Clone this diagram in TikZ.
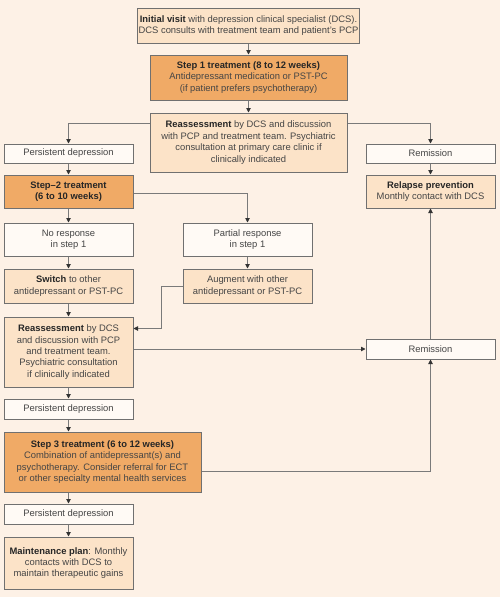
\documentclass[tikz,border=0pt]{standalone}
\usepackage{fontspec}
\setmainfont{Liberation Sans}
\usetikzlibrary{arrows.meta}
\definecolor{bgc}{HTML}{FDF1E6}
\definecolor{lightbox}{HTML}{FCE3C8}
\definecolor{darkbox}{HTML}{F0AA66}
\definecolor{whitebox}{HTML}{FFFAF5}
\definecolor{edgec}{HTML}{707070}
\definecolor{txt}{HTML}{454545}
\definecolor{linec}{HTML}{7A7A7A}
\tikzset{
  basebox/.style={draw=edgec, line width=1pt, align=center, inner sep=1pt,
    text=txt, font=\fontsize{9.4}{11.4}\selectfont},
  wbox/.style={basebox, fill=whitebox},
  lbox/.style={basebox, fill=lightbox},
  dbox/.style={basebox, fill=darkbox},
  arr/.style={draw=linec, line width=0.9pt, -{Triangle[width=4.5pt,length=4.5pt,color=black!80]}},
  ln/.style={draw=linec, line width=0.9pt}
}
\newcommand{\bt}[1]{\textbf{\color{black!85}#1}}
\begin{document}
\begin{tikzpicture}[x=1pt,y=-1pt]
\fill[bgc] (0,0) rectangle (500,597);
\useasboundingbox (0,0) rectangle (500,597);

\node[lbox, minimum width=220pt, minimum height=35pt] (init) at (248.5,25.5)
  {\bt{Initial visit} with depression clinical specialist (DCS).\\DCS consults with treatment team and patient's PCP};
\node[dbox, minimum width=197pt, minimum height=45pt] (step1) at (248.5,77.5)
  {\bt{Step 1 treatment (8 to 12 weeks)}\\Antidepressant medication or PST-PC\\(if patient prefers psychotherapy)};
\node[lbox, minimum width=197pt, minimum height=59pt] (reass1) at (248.5,142.5)
  {\bt{Reassessment} by DCS and discussion\\with PCP and treatment team. Psychiatric\\consultation at primary care clinic if\\clinically indicated};
\node[wbox, minimum width=129pt, minimum height=19pt] (pd1) at (68.5,153.5) {Persistent depression};
\node[wbox, minimum width=129pt, minimum height=19pt] (rem1) at (430.5,153.5) {Remission};
\node[dbox, minimum width=129pt, minimum height=33pt] (step2) at (68.5,191.5)
  {\bt{Step--2 treatment}\\\bt{(6 to 10 weeks)}};
\node[lbox, minimum width=129pt, minimum height=33pt] (relapse) at (430.5,191.5)
  {\bt{Relapse prevention}\\Monthly contact with DCS};
\node[wbox, minimum width=129pt, minimum height=33pt] (noresp) at (68.5,239.5)
  {No response\\in step 1};
\node[wbox, minimum width=129pt, minimum height=33pt] (partial) at (247.5,239.5)
  {Partial response\\in step 1};
\node[lbox, minimum width=129pt, minimum height=34pt] (switch) at (68.5,286)
  {\bt{Switch} to other\\antidepressant or PST-PC};
\node[lbox, minimum width=129pt, minimum height=34pt] (augment) at (247.5,286)
  {Augment with other\\antidepressant or PST-PC};
\node[lbox, minimum width=129pt, minimum height=70pt] (reass2) at (68.5,352)
  {\bt{Reassessment} by DCS\\and discussion with PCP\\and treatment team.\\Psychiatric consultation\\if clinically indicated};
\node[wbox, minimum width=129pt, minimum height=20pt] (rem2) at (430.5,349) {Remission};
\node[wbox, minimum width=129pt, minimum height=20pt] (pd2) at (68.5,409) {Persistent depression};
\node[dbox, minimum width=197pt, minimum height=60pt] (step3) at (102.5,462)
  {\bt{Step 3 treatment (6 to 12 weeks)}\\Combination of antidepressant(s) and\\psychotherapy. Consider referral for ECT\\or other specialty mental health services};
\node[wbox, minimum width=129pt, minimum height=20pt] (pd3) at (68.5,514) {Persistent depression};
\node[lbox, minimum width=129pt, minimum height=52pt] (maint) at (68.5,563)
  {\bt{Maintenance plan}: Monthly\\contacts with DCS to\\maintain therapeutic gains};

\draw[arr] (init) -- (step1);
\draw[arr] (step1) -- (reass1);
\draw[arr] ([yshift=-11pt]reass1.north west) -| (pd1.north);
\draw[arr] ([yshift=-11pt]reass1.north east) -| (rem1.north);
\draw[arr] (pd1) -- (step2);
\draw[arr] (rem1) -- (relapse);
\draw[arr] ([yshift=-1.5pt]step2.east) -| (partial.north);
\draw[arr] (step2) -- (noresp);
\draw[arr] (noresp) -- (switch);
\draw[arr] (partial) -- (augment);
\draw[arr] (switch) -- (reass2);
\draw[arr] (augment.west) -- ++(-21,0) |- ([yshift=-12pt]reass2.north east);
\draw[arr] (rem2.west -| reass2.east) -- (rem2.west);
\draw[arr] (rem2) -- (relapse);
\draw[arr] (reass2) -- (pd2);
\draw[arr] (pd2.south) -- (pd2.south |- step3.north);
\draw[arr] ([yshift=-9pt]step3.east) -| (rem2.south);
\draw[arr] (step3.south -| pd3.north) -- (pd3.north);
\draw[arr] (pd3) -- (maint);
\end{tikzpicture}
\end{document}
